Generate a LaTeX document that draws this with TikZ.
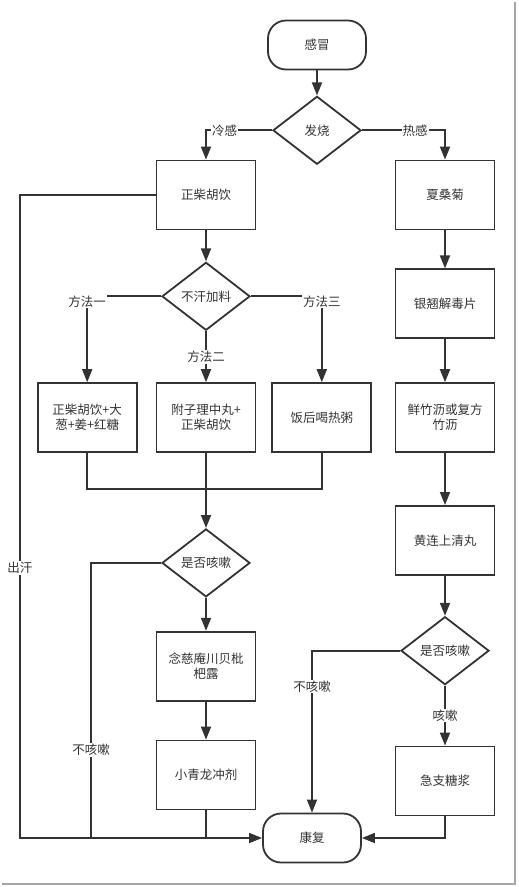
\documentclass[tikz,border=0pt]{standalone}
\usepackage{fontspec}
\setmainfont{Noto Sans CJK SC}
\usetikzlibrary{arrows.meta, shapes.geometric, positioning}
\definecolor{inkgray}{HTML}{333333}
\tikzset{
  >={Triangle[length=13pt,width=10pt]},
  base/.style = {draw=inkgray, line width=1.8pt, text=inkgray, align=center,
                 font=\fontsize{12.5}{15}\selectfont, inner sep=0pt},
}

\begin{document}
\begin{tikzpicture}[x=1pt, y=-1pt, color=inkgray, line width=1.8pt,
            terminal/.style = {base, rectangle, rounded corners=18pt, minimum width=98pt, minimum height=49pt},
            process/.style  = {base, rectangle, minimum width=99pt, minimum height=69pt},
            decision/.style = {base, diamond, minimum width=88pt, minimum height=68pt},
            tag/.style      = {fill=white, text=inkgray, font=\fontsize{12.5}{15}\selectfont, inner sep=1pt},
        ]
        \useasboundingbox (0,0) rectangle (519,887);

        \node[terminal] (ganmao) at (317,45) {感冒};
        \node[decision, below=25pt of ganmao] (fashao) {发烧};
        \node[process] (zchy) at (206,195) {正柴胡饮};
        \node[process] (xsj) at (445,195) {夏桑菊};

        % cold branch
        \node[decision, below=31pt of zchy] (buhan) {不汗加料};
        \node[process, below=51pt of buhan] (fa2) {附子理中丸+\\正柴胡饮};
        \node[process, left=18pt of fa2] (fa1) {正柴胡饮+大\\葱+姜+红糖};
        \node[process, right=15pt of fa2] (fa3) {饭后喝热粥};
        \node[decision, below=75pt of fa2] (kesou1) {是否咳嗽};
        \node[process, below=33pt of kesou1] (nca) {念慈庵川贝枇\\杷露};
        \node[process, below=38pt of nca] (xql) {小青龙冲剂};

        % hot branch
        \node[process, below=38pt of xsj] (yqj) {银翘解毒片};
        \node[process, below=43pt of yqj] (xzl) {鲜竹沥或复方\\竹沥};
        \node[process, below=52pt of xzl] (hlsq) {黄连上清丸};
        \node[decision, below=40pt of hlsq] (kesou2) {是否咳嗽};
        \node[process, below=60pt of kesou2] (jzt) {急支糖浆};

        \node[terminal] (kangfu) at (312,838) {康复};

        \coordinate (chuhan) at (20,838);
        \coordinate (buke1) at (91,838);
        \coordinate (merge) at (206,489);
        \coordinate (xqlend) at (206,838);

        \draw[->] (ganmao) -- (fashao);
        \draw[->] (fashao.west) -| node[tag, pos=0.36] {冷感} (zchy.north);
        \draw[->] (fashao.east) -| node[tag, pos=0.32] {热感} (xsj.north);

        \draw[->] (zchy) -- (buhan);
        \draw[->] (buhan.west) -| node[tag, pos=0.5, yshift=-5pt] {方法一} (fa1.north);
        \draw[->] (buhan) -- node[tag] {方法二} (fa2);
        \draw[->] (buhan.east) -| node[tag, pos=0.5, yshift=-5pt] {方法三} (fa3.north);
        \draw (fa1.south) |- (merge) -| (fa3.south);
        \draw[->] (fa2) -- (kesou1);
        \draw[->] (kesou1) -- (nca);
        \draw[->] (nca) -- (xql);
        \draw (xql.south) -- (xqlend);
        \draw (kesou1.west) -| node[tag, pos=0.84] {不咳嗽} (buke1);
        \draw[->] (zchy.west) -| node[tag, pos=0.79] {出汗} (chuhan) -- (kangfu.west);

        \draw[->] (xsj) -- (yqj);
        \draw[->] (yqj) -- (xzl);
        \draw[->] (xzl) -- (hlsq);
        \draw[->] (hlsq) -- (kesou2);
        \draw[->] (kesou2.west) -| node[tag, pos=0.61] {不咳嗽} (kangfu.north);
        \draw[->] (kesou2) -- node[tag] {咳嗽} (jzt);
        \draw[->] (jzt.south) |- (kangfu.east);

        % page shadow
        \draw[draw=gray!70, line width=2pt] (515,2) -- (515,884) -- (2,884);
\end{tikzpicture}
\end{document}
